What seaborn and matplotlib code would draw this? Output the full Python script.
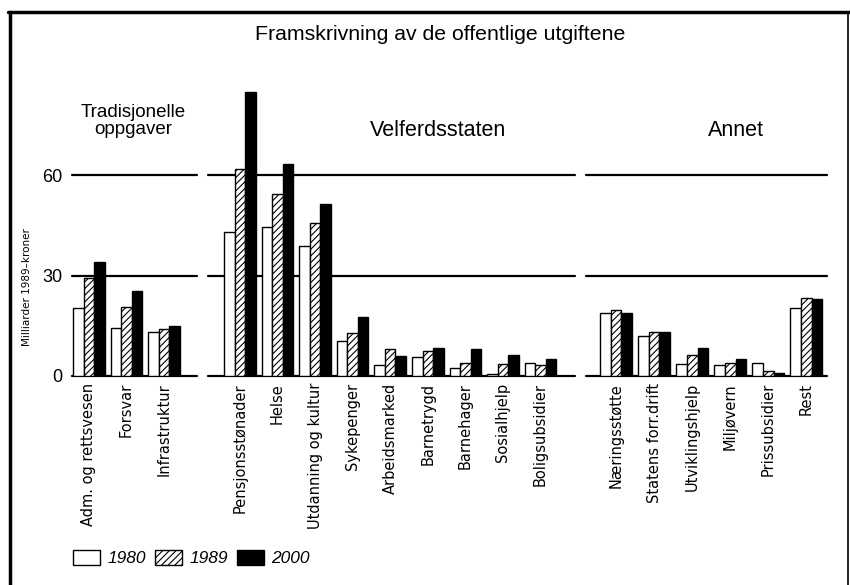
import numpy as np
import pandas as pd
import matplotlib
matplotlib.use("Agg")
import matplotlib.pyplot as plt
import seaborn as sns
from matplotlib.patches import Patch
from matplotlib.lines import Line2D

years = ["1980", "1989", "2000"]

trad_cats = ["Adm. og rettsvesen", "Forsvar", "Infrastruktur"]
trad_1980 = [20.4, 14.5, 13.3]
trad_1989 = [29.2, 20.7, 14.1]
trad_2000 = [34.2, 25.4, 15.0]

velf_cats = ["Pensjonsstønader", "Helse", "Utdanning og kultur", "Sykepenger",
             "Arbeidsmarked", "Barnetrygd", "Barnehager", "Sosialhjelp", "Boligsubsidier"]
velf_1980 = [43.2, 44.5, 39.0, 10.5, 3.3, 5.6, 2.3, 0.5, 3.8]
velf_1989 = [61.8, 54.4, 45.7, 13.0, 8.0, 7.6, 4.0, 3.5, 3.3]
velf_2000 = [85.0, 63.4, 51.4, 17.5, 6.0, 8.3, 8.0, 6.2, 5.0]

annet_cats = ["Næringsstøtte", "Statens forr.drift", "Utviklingshjelp", "Miljøvern",
              "Prissubsidier", "Rest"]
annet_1980 = [18.8, 12.1, 3.5, 3.3, 4.0, 20.2]
annet_1989 = [19.7, 13.1, 6.3, 4.0, 1.6, 23.2]
annet_2000 = [18.9, 13.1, 8.3, 5.0, 0.8, 23.0]

group_titles = ["Tradisjonelle\noppgaver", "Velferdsstaten", "Annet"]
yticks = [0, 30, 60]
title = "Framskrivning av de offentlige utgiftene"
ylabel = "Milliarder 1989\u2013kroner"


def long_df(cats, a, b, c):
    rows = []
    for yr, vals in zip(years, [a, b, c]):
        for cat, v in zip(cats, vals):
            rows.append({"cat": cat, "year": yr, "val": v})
    return pd.DataFrame(rows)


groups = [
    long_df(trad_cats, trad_1980, trad_1989, trad_2000),
    long_df(velf_cats, velf_1980, velf_1989, velf_2000),
    long_df(annet_cats, annet_1980, annet_1989, annet_2000),
]
cat_lists = [trad_cats, velf_cats, annet_cats]

sns.set_style("white")
plt.rcParams["font.family"] = ["DejaVu Sans"]
plt.rcParams["hatch.linewidth"] = 0.8
plt.rcParams["text.color"] = "black"
plt.rcParams["xtick.color"] = "black"
plt.rcParams["ytick.color"] = "black"
plt.rcParams["axes.labelcolor"] = "black"

W, H = 850, 585
fig = plt.figure(figsize=(8.5, 5.85), dpi=100)

# pixel spans of panels
spans = [(72, 197), (208, 575), (586, 827)]
xlims = [(-0.453, 2.88), (-0.852, 8.92), (-0.79, 5.54)]
ax_top, ax_bot = 75, 376

head_font = ["Liberation Sans Narrow", "Liberation Sans", "DejaVu Sans"]

axes = []
for i, (df, cats, (x0, x1), xl) in enumerate(zip(groups, cat_lists, spans, xlims)):
    ax = fig.add_axes([x0 / W, 1 - ax_bot / H, (x1 - x0) / W, (ax_bot - ax_top) / H])
    for yv in yticks:
        ax.axhline(yv, color="black", lw=1.6, zorder=0, clip_on=False)
    sns.barplot(data=df, x="cat", y="val", hue="year", hue_order=years, order=cats,
                palette=["white", "white", "black"], width=0.84, legend=False,
                edgecolor="black", linewidth=1.0, errorbar=None, saturation=1, ax=ax,
                zorder=2)
    for yr, cont in zip(years, ax.containers):
        for p in cont.patches:
            if yr == "1980":
                p.set_facecolor("white")
            elif yr == "1989":
                p.set_facecolor("white")
                p.set_hatch("/////")
            else:
                p.set_facecolor("black")
            p.set_edgecolor("black")
    ax.set_xlim(*xl)
    ax.set_ylim(0, 90)
    for s in ax.spines.values():
        s.set_visible(False)
    ax.set_xlabel("")
    ax.set_ylabel("")
    ax.tick_params(axis="x", rotation=90, length=0, pad=5, labelsize=10.5,
                   labelcolor="black")
    ax.set_facecolor("none")
    if i == 0:
        ax.set_yticks(yticks)
        ax.set_yticklabels([str(v) for v in yticks], fontsize=13,
                           fontfamily=head_font)
        ax.tick_params(axis="y", length=0, pad=7, labelcolor="black")
    else:
        ax.set_yticks([])
    axes.append(ax)

fig.text(27 / W, 1 - 287 / H, ylabel, rotation=90, ha="center", va="center", fontsize=7.5)

fig.text(440 / W, 1 - 35 / H, title, ha="center", va="center", fontsize=15.3,
         fontfamily=head_font)
fig.text(133 / W, 1 - 121 / H, group_titles[0], ha="center", va="center", fontsize=13.5,
         fontfamily=head_font, linespacing=1.0)
fig.text(438 / W, 1 - 130 / H, group_titles[1], ha="center", va="center", fontsize=15.5,
         fontfamily=head_font)
fig.text(736 / W, 1 - 130 / H, group_titles[2], ha="center", va="center", fontsize=15.5,
         fontfamily=head_font)

handles = [Patch(facecolor="white", edgecolor="black", lw=1.0),
           Patch(facecolor="white", edgecolor="black", hatch="/////", lw=1.0),
           Patch(facecolor="black", edgecolor="black", lw=1.0)]
fig.legend(handles, years, loc="center left", bbox_to_anchor=(73 / W, 1 - 558 / H),
           ncol=3, frameon=False, handlelength=1.55, handleheight=1.0,
           columnspacing=0.5, handletextpad=0.45, borderaxespad=0, borderpad=0,
           prop={"size": 12.5, "style": "italic", "family": head_font})

# outer frame
fig.add_artist(Line2D([9.5 / W, 9.5 / W], [0, 1 - 11.5 / H], transform=fig.transFigure,
                      lw=2.5, color="black"))
fig.add_artist(Line2D([8 / W, 1], [1 - 11.5 / H, 1 - 11.5 / H], transform=fig.transFigure,
                      lw=2.5, color="black"))
fig.add_artist(Line2D([848 / W, 848 / W], [0, 1 - 11.5 / H], transform=fig.transFigure,
                      lw=1.2, color="black"))

fig.savefig("out.png", dpi=100)
